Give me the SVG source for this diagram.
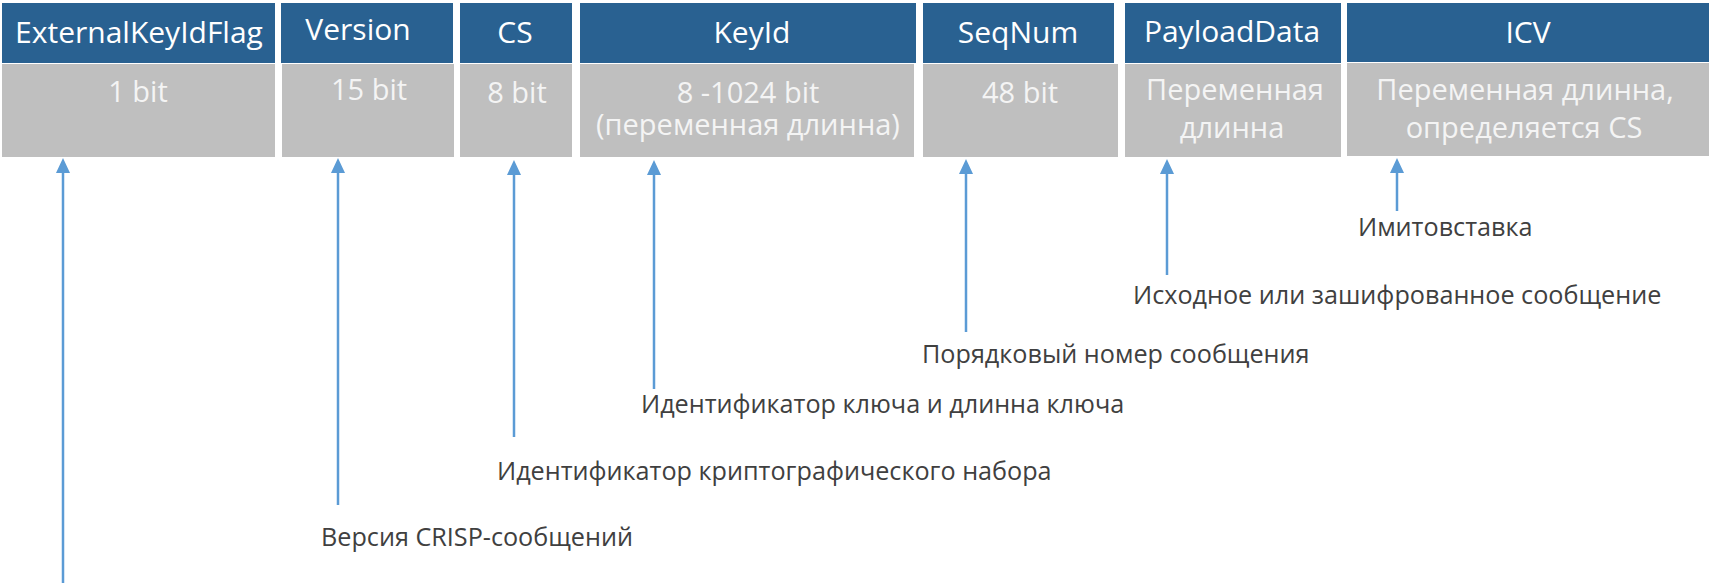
<svg xmlns="http://www.w3.org/2000/svg" width="1709" height="583" viewBox="0 0 1709 583">
<style>
.hdr{fill:#296191}
.body{fill:#BFBFBF}
.ht{font-family:"Open Sans","Noto Sans","Liberation Sans",sans-serif;font-size:30px;fill:#FFFFFF;text-anchor:middle}
.bt{font-family:"Open Sans","Noto Sans","Liberation Sans",sans-serif;font-size:29px;fill:#F4F4F4;text-anchor:middle}
.lbl{font-family:"Open Sans","Noto Sans","Liberation Sans",sans-serif;font-size:25.2px;fill:#404040}
.conn{stroke:#5B9BD5;stroke-width:2.5;fill:none;marker-end:url(#ah)}
</style>
<defs>
<marker id="ah" markerUnits="userSpaceOnUse" viewBox="0 0 15 14" markerWidth="15" markerHeight="14" refX="0" refY="7" orient="auto">
<path d="M0,0 L15,7 L0,14 Z" fill="#5B9BD5"/>
</marker>
</defs>
<rect width="1709" height="583" fill="#FFFFFF"/>
<g id="field-externalkeyidflag">
<rect class="hdr" x="2" y="3" width="273" height="60"/>
<rect class="body" x="2" y="64" width="273" height="93"/>
<text class="ht" x="139" y="43">ExternalKeyIdFlag</text>
<text class="bt" x="138" y="102">1 bit</text>
</g>
<g id="field-version">
<rect class="hdr" x="281" y="3" width="172" height="60"/>
<rect class="body" x="282" y="64" width="172" height="93"/>
<text class="ht" x="358" y="40">Version</text>
<text class="bt" x="369" y="100">15 bit</text>
</g>
<g id="field-cs">
<rect class="hdr" x="460" y="3" width="112" height="60"/>
<rect class="body" x="460" y="64" width="112" height="93"/>
<text class="ht" x="515" y="43">CS</text>
<text class="bt" x="517" y="103">8 bit</text>
</g>
<g id="field-keyid">
<rect class="hdr" x="580" y="3" width="336" height="60"/>
<rect class="body" x="580" y="64" width="334" height="93"/>
<text class="ht" x="752" y="43">KeyId</text>
<text class="bt"><tspan x="748" y="103">8 -1024 bit</tspan><tspan x="748" y="135">(переменная длинна)</tspan></text>
</g>
<g id="field-seqnum">
<rect class="hdr" x="923" y="3" width="191" height="60"/>
<rect class="body" x="923" y="64" width="195" height="93"/>
<text class="ht" x="1018" y="43">SeqNum</text>
<text class="bt" x="1020" y="103">48 bit</text>
</g>
<g id="field-payloaddata">
<rect class="hdr" x="1125" y="3" width="216" height="60"/>
<rect class="body" x="1125" y="64" width="216" height="93"/>
<text class="ht" x="1232" y="42">PayloadData</text>
<text class="bt"><tspan x="1235" y="100">Переменная</tspan><tspan x="1232" y="138">длинна</tspan></text>
</g>
<g id="field-icv">
<rect class="hdr" x="1347" y="3" width="362" height="59"/>
<rect class="body" x="1347" y="63" width="362" height="93"/>
<text class="ht" x="1528" y="43">ICV</text>
<text class="bt"><tspan x="1525" y="100">Переменная длинна,</tspan><tspan x="1524" y="138">определяется CS</tspan></text>
</g>
<g id="connectors">
<line class="conn" x1="63" y1="583" x2="63" y2="173"/>
<line class="conn" x1="338" y1="505" x2="338" y2="173"/>
<line class="conn" x1="514" y1="437" x2="514" y2="175"/>
<line class="conn" x1="654" y1="389" x2="654" y2="175"/>
<line class="conn" x1="966" y1="332" x2="966" y2="174"/>
<line class="conn" x1="1167" y1="275" x2="1167" y2="174"/>
<line class="conn" x1="1397" y1="211" x2="1397" y2="173"/>
</g>
<g id="labels">
<text class="lbl" x="1358" y="236">Имитовставка</text>
<text class="lbl" x="1133" y="304">Исходное или зашифрованное сообщение</text>
<text class="lbl" x="922" y="363">Порядковый номер сообщения</text>
<text class="lbl" x="641" y="413">Идентификатор ключа и длинна ключа</text>
<text class="lbl" x="497" y="480">Идентификатор криптографического набора</text>
<text class="lbl" x="321" y="546">Версия CRISP-сообщений</text>
</g>
</svg>
